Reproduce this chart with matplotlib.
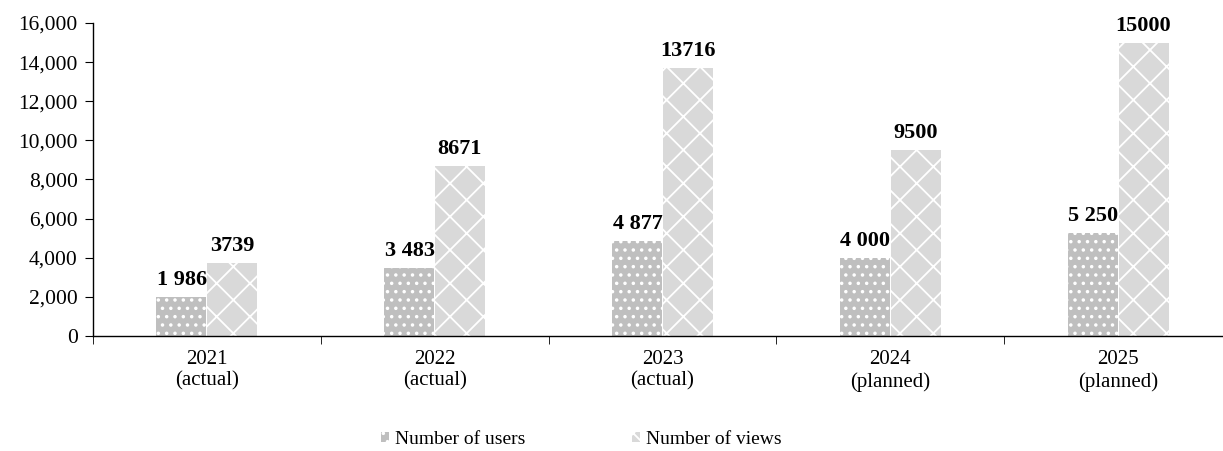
import matplotlib.pyplot as plt
import numpy as np
from matplotlib.ticker import FuncFormatter

plt.rcParams['font.family'] = ['Liberation Serif', 'DejaVu Serif']
plt.rcParams['hatch.linewidth'] = 1.3

# data
categories = ['2021\n(actual)', '2022\n(actual)', '2023\n(actual)', '2024\n(planned)', '2025\n(planned)']
users = [1986, 3483, 4877, 4000, 5250]
views = [3739, 8671, 13716, 9500, 15000]

fig = plt.figure(figsize=(12.23, 4.51), dpi=100)
ax = fig.add_axes([0.076, 0.255, 0.924, 0.694])

x = np.arange(len(categories))
w = 0.22

ax.bar(x - w / 2 - 0.002, users, w, color='#bfbfbf', edgecolor='white',
       linewidth=0, hatch='..', label='Number of users')
ax.bar(x + w / 2 + 0.002, views, w, color='#d9d9d9', edgecolor='white',
       linewidth=0, hatch='x', label='Number of views')

# value labels
for xi, v in zip(x - w / 2, users):
    ax.annotate(f'{v:,}'.replace(',', ' '), (xi, v), xytext=(0, 5),
                textcoords='offset points', ha='center', va='bottom',
                fontsize=16, fontweight='bold')
for xi, v in zip(x + w / 2, views):
    ax.annotate(str(v), (xi, v), xytext=(0, 5),
                textcoords='offset points', ha='center', va='bottom',
                fontsize=16, fontweight='bold')

ax.set_ylim(0, 16000)
ax.set_yticks(np.arange(0, 16001, 2000))
ax.yaxis.set_major_formatter(FuncFormatter(lambda v, p: f'{int(v):,}'))
ax.set_xlim(-0.5, 4.46)
ax.set_xticks(x)
ax.set_xticklabels(categories, linespacing=1.2)
ax.set_xticks(np.arange(-0.5, 4.5, 1.0), minor=True)
ax.tick_params(axis='x', which='major', length=0, pad=10, labelsize=15)
ax.tick_params(axis='x', which='minor', length=6, direction='out')
ax.tick_params(axis='y', length=6, labelsize=15.5, pad=5)

ax.spines['top'].set_visible(False)
ax.spines['right'].set_visible(False)
for s in ['left', 'bottom']:
    ax.spines[s].set_linewidth(1.0)
    ax.spines[s].set_color('black')

ax.legend(loc='center', bbox_to_anchor=(0.432, -0.33), ncol=2,
          frameon=False, fontsize=14, handlelength=0.4, handleheight=0.4,
          handletextpad=0.3, columnspacing=5.5, borderpad=0)

fig.savefig('out.png', dpi=100)
